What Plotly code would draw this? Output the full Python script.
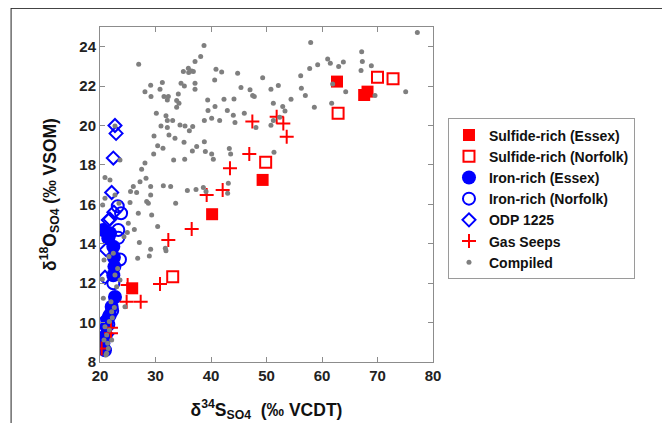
import plotly.graph_objects as go

# ---- data ----
sulf_essex_x = [25.8, 40.2, 49.3, 62.7, 67.6, 68.2]
sulf_essex_y = [11.74, 15.5, 17.24, 22.23, 21.55, 21.72]

sulf_norf_x = [33.1, 49.85, 62.9, 70.0, 72.8]
sulf_norf_y = [12.33, 18.14, 20.62, 22.45, 22.37]

iron_essex_x = [20.6, 21.8, 21.5, 22.4, 22.5, 22.6, 22.7, 22.1, 21.8, 21.2, 20.9, 20.6, 20.9, 22.4, 21.3]
iron_essex_y = [14.7, 14.53, 14.28, 13.85, 13.3, 12.84, 11.3, 10.8, 10.4, 9.8, 9.3, 8.95, 8.6, 12.4, 10.1]

iron_norf_x = [23.8, 23.3, 23.3, 23.6, 22.4, 22.2, 21.5, 21.0, 21.6, 23.2]
iron_norf_y = [15.55, 14.7, 14.3, 13.2, 12.0, 10.6, 9.9, 9.3, 10.3, 15.9]

odp_x = [22.7, 22.9, 22.4, 22.1, 22.5, 21.8, 21.5, 21.1, 20.9, 20.4, 21.2]
odp_y = [20.0, 19.6, 18.35, 16.6, 15.6, 15.25, 15.2, 13.7, 12.3, 9.97, 9.4]

gas_x = [20.3, 21.98, 21.98, 24.98, 24.8, 27.33, 30.81, 32.31, 36.52, 39.22, 42.1,
         43.42, 46.9, 47.45, 51.83, 53.03, 53.64]
gas_y = [8.69, 9.74, 9.46, 11.91, 11.06, 11.06, 11.96, 14.19, 14.75, 16.48, 16.73,
         17.83, 18.56, 20.2, 20.45, 20.1, 19.43]

comp_x = [38.74, 26.97, 38.14, 37.12, 35.92, 36.52, 35.02, 35.98, 36.82, 40.9, 41.92, 44.8,
          49.31, 31.23, 29.13, 34.6, 35.2, 37.12, 37.12, 40.66, 45.4, 47.03, 47.5, 50.8,
          52.13, 28.1, 29.19, 30.81, 31.53, 32.31, 32.13, 34.11, 33.81, 39.4, 42.34, 44.14,
          47.8, 34.23, 33.81, 30.15, 31.89, 30.99, 32.13, 33.09, 32.13, 32.43, 34.41, 36.7,
          35.32, 36.1, 40.12, 41.56, 38.8, 39.46, 40.72, 42.94, 44.02, 44.32, 46.0, 48.1,
          50.8, 51.23, 51.23, 22.7, 29.73, 30.39, 31.35, 33.51, 35.14, 37.42, 38.8, 38.98,
          40.12, 40.42, 43.3, 43.54, 36.64, 35.26, 33.27, 28.1, 29.67, 27.5, 28.29, 27.21,
          31.41, 32.73, 29.13, 35.74, 38.62, 39.1, 37.3, 43.12, 43.0, 20.9, 21.8, 26.0,
          25.5, 26.6, 29.13, 23.6,
          77.18, 57.96, 67.15, 61.02, 61.5, 63.85, 63.0, 67.27, 59.22, 57.78, 56.16, 67.03,
          68.89, 56.28, 61.92, 57.0, 64.27, 54.42, 52.92, 53.33, 58.62, 61.74, 69.55, 75.08,
          51.35, 52.37,
          28.41, 28.71, 33.63, 25.41, 20.48, 23.42, 26.9, 29.31, 25.1, 30.39, 26.19, 24.92,
          24.32, 27.09, 29.13, 31.77, 31.89, 26.79, 28.89, 20.72, 22.4, 23.18, 22.7, 20.42,
          23.6, 23.0, 20.6, 24.5, 22.58, 22.1, 22.22, 21.68, 20.9, 21.68, 21.2, 20.72,
          21.38, 21.5, 21.2, 21.08, 22.1, 21.98, 21.62, 22.7, 20.9]
comp_y = [24.06, 23.11, 23.5, 23.25, 22.91, 22.77, 22.74, 22.69, 22.74, 22.86, 22.72, 22.65,
          22.42, 22.18, 22.04, 22.15, 22.01, 22.15, 21.84, 22.31, 21.93, 21.81, 21.52, 21.84,
          22.03, 21.72, 21.47, 21.84, 21.47, 21.47, 21.3, 21.6, 21.27, 21.3, 21.33, 21.35,
          21.47, 21.13, 20.93, 20.62, 20.49, 19.98, 20.25, 20.25, 19.9, 19.52, 20.03, 19.95,
          19.98, 19.73, 20.37, 20.25, 20.25, 20.76, 20.96, 20.76, 20.52, 20.15, 20.62, 19.9,
          20.01, 20.25, 21.13, 19.98, 19.47, 18.98, 18.85, 19.35, 19.15, 18.93, 19.18, 18.68,
          18.56, 18.29, 18.83, 18.56, 18.71, 18.29, 18.25, 18.1, 18.56, 17.78, 17.32, 17.15,
          16.95, 16.9, 16.9, 16.7, 16.85, 16.65, 16.76, 17.07, 16.56, 17.36, 17.24, 16.9,
          16.65, 16.6, 16.48, 18.25,
          24.72, 24.21, 23.75, 23.38, 23.16, 23.23, 22.99, 23.25, 23.09, 22.9, 22.52, 22.79,
          23.03, 21.89, 22.11, 21.52, 21.72, 21.33, 20.96, 20.74, 20.93, 21.13, 21.52, 21.72,
          18.64, 20.42,
          16.14, 16.05, 16.05, 16.09, 15.97, 16.05, 15.55, 15.46, 15.04, 14.87, 14.73, 14.57,
          14.36, 14.06, 13.72, 13.77, 13.65, 13.26, 13.38, 13.18, 13.52, 12.75, 12.42, 12.2,
          12.16, 11.82, 11.23, 10.81, 10.76, 10.55, 10.25, 10.05, 9.79, 9.62, 9.37, 9.12,
          8.95, 8.69, 8.44, 8.36, 9.12, 11.06, 13.35, 16.48, 16.31]

x_ticks = [20, 30, 40, 50, 60, 70, 80]
y_ticks = [8, 10, 12, 14, 16, 18, 20, 22, 24]

RED = "#FF0000"
BLUE = "#0000FF"
GRAY = "#7F7F7F"
FONT = "Liberation Sans, Arial"

fig = go.Figure()
fig.add_trace(go.Scatter(x=sulf_essex_x, y=sulf_essex_y, mode="markers", name="Sulfide-rich (Essex)",
                         marker=dict(symbol="square", size=12, color=RED, line=dict(width=0))))
fig.add_trace(go.Scatter(x=sulf_norf_x, y=sulf_norf_y, mode="markers", name="Sulfide-rich (Norfolk)",
                         marker=dict(symbol="square-open", size=11, color=RED, line=dict(width=2, color=RED))))
fig.add_trace(go.Scatter(x=iron_essex_x, y=iron_essex_y, mode="markers", name="Iron-rich (Essex)",
                         marker=dict(symbol="circle", size=14, color=BLUE, line=dict(width=0))))
fig.add_trace(go.Scatter(x=iron_norf_x, y=iron_norf_y, mode="markers", name="Iron-rich (Norfolk)",
                         marker=dict(symbol="circle-open", size=12, color=BLUE, line=dict(width=2, color=BLUE))))
fig.add_trace(go.Scatter(x=odp_x, y=odp_y, mode="markers", name="ODP 1225",
                         marker=dict(symbol="diamond-open", size=10, color=BLUE, line=dict(width=2, color=BLUE))))
fig.add_trace(go.Scatter(x=gas_x, y=gas_y, mode="markers", name="Gas Seeps",
                         marker=dict(symbol="cross-thin-open", size=10, color=RED, line=dict(width=2, color=RED))))
fig.add_trace(go.Scatter(x=comp_x, y=comp_y, mode="markers", name="Compiled",
                         marker=dict(symbol="circle", size=5, color=GRAY, line=dict(width=0))))

axis_common = dict(
    showgrid=False, zeroline=False, showline=True, linecolor="#8C8C8C", linewidth=1,
    mirror="ticks", ticks="inside", ticklen=5, tickcolor="#8C8C8C", automargin=False,
    tickfont=dict(family=FONT, size=15, color="#222222", weight="bold"),
)

fig.update_xaxes(range=[20, 80], tickvals=x_ticks, **axis_common,
                 title=dict(text="δ<sup>34</sup>S<sub>SO4</sub>  (‰ VCDT)", standoff=20,
                            font=dict(family=FONT, size=17.5, color="#111111", weight="bold")))
fig.update_yaxes(range=[8, 25], tickvals=y_ticks, **axis_common,
                 title=dict(text="δ<sup>18</sup>O<sub>SO4</sub> (‰ VSOM)", standoff=18,
                            font=dict(family=FONT, size=17.5, color="#111111", weight="bold")))

# outer frame lines of the original figure
frame = dict(xref="paper", yref="paper", type="line")
fig.add_shape(**frame, x0=-0.267, x1=1.709, y0=1.057, y1=1.057, line=dict(color="#444444", width=2))
fig.add_shape(**frame, x0=-0.267, x1=-0.267, y0=1.057, y1=-0.2, line=dict(color="#222222", width=1))
fig.add_shape(**frame, x0=1.709, x1=1.709, y0=1.057, y1=-0.2, line=dict(color="#888888", width=2))

fig.update_layout(
    width=662, height=415,
    margin=dict(l=92, r=237, t=19, b=61, autoexpand=False),
    plot_bgcolor="white", paper_bgcolor="white",
    legend=dict(x=1.045, y=0.727, xanchor="left", yanchor="top",
                bordercolor="#9A9A9A", borderwidth=1, bgcolor="white",
                font=dict(family=FONT, size=14, color="#111111", weight="bold"),
                tracegroupgap=0, itemsizing="trace"),
    showlegend=True,
)

fig.write_html("out.html")
